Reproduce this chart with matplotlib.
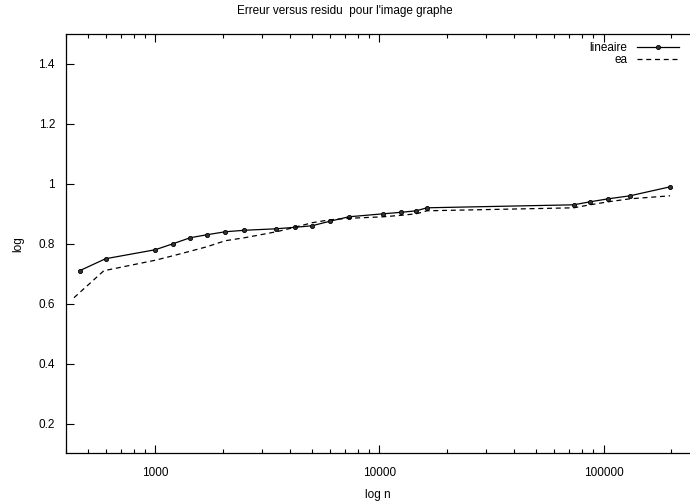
import matplotlib
matplotlib.use("Agg")
import matplotlib.pyplot as plt
from matplotlib.ticker import FixedLocator, FormatStrFormatter, LogLocator, NullFormatter

plt.rcParams['font.family'] = ['Liberation Sans', 'DejaVu Sans']

# === Données ===
x_lin = [460, 600, 1000, 1200, 1430, 1700, 2050, 2500, 3470, 4200, 5000, 6000, 7300,
         10400, 12500, 14600, 16300, 73600, 87000, 105000, 131000, 198000]
y_lin = [0.71, 0.75, 0.78, 0.80, 0.82, 0.83, 0.84, 0.845, 0.85, 0.855, 0.86, 0.875, 0.89,
         0.90, 0.905, 0.91, 0.92, 0.93, 0.94, 0.95, 0.96, 0.99]

x_ea = [434, 590, 1000, 1200, 1430, 1700, 2050, 2500, 3470, 4200, 5000, 6000, 7300,
        10400, 12500, 14600, 16300, 73600, 87000, 105000, 131000, 198000]
y_ea = [0.62, 0.71, 0.745, 0.76, 0.775, 0.79, 0.81, 0.82, 0.84, 0.855, 0.87, 0.88, 0.885,
        0.89, 0.895, 0.90, 0.91, 0.92, 0.93, 0.94, 0.95, 0.96]

y_ticks = [0.2, 0.4, 0.6, 0.8, 1.0, 1.2, 1.4]

# === Figure ===
fig = plt.figure(figsize=(6.9, 5.04), dpi=100)
ax = fig.add_axes([0.0957, 0.1002, 0.9043, 0.8323])

ax.plot(x_lin, y_lin, color='black', linewidth=0.9, marker='o', markersize=3,
        markerfacecolor='#333333', markeredgecolor='black', markeredgewidth=0.6,
        label='lineaire')
ax.plot(x_ea, y_ea, color='black', linewidth=0.9, dashes=(4, 3), label='ea')

ax.set_xscale('log')
ax.set_xlim(400, 243000)
ax.set_ylim(0.1, 1.5)

ax.xaxis.set_major_locator(FixedLocator([1000, 10000, 100000]))
ax.xaxis.set_major_formatter(FormatStrFormatter('%d'))
ax.xaxis.set_minor_locator(LogLocator(base=10, subs=range(2, 10)))
ax.xaxis.set_minor_formatter(NullFormatter())
ax.yaxis.set_major_locator(FixedLocator(y_ticks))
ax.yaxis.set_major_formatter(FormatStrFormatter('%g'))

ax.tick_params(axis='both', which='major', direction='in', length=6, width=0.8,
               labelsize=8.5, top=True, right=False)
ax.tick_params(axis='x', which='major', pad=10)
ax.tick_params(axis='y', which='major', pad=8)
ax.tick_params(axis='x', which='minor', direction='in', length=3, width=0.8, top=True)
ax.spines['right'].set_visible(False)
for s in ['left', 'bottom', 'top']:
    ax.spines[s].set_linewidth(0.9)

ax.set_xlabel('log n', fontsize=8.5, labelpad=7)
ax.set_ylabel('log', fontsize=8.5, labelpad=10)
fig.text(0.5, 0.978, "Erreur versus residu  pour l'image graphe", ha='center', va='center',
         fontsize=8.5)

ax.legend(loc='upper right', frameon=False, markerfirst=False, fontsize=8.5,
          handlelength=3.6, labelspacing=-0.03, borderaxespad=0.3, handletextpad=0.8,
          bbox_to_anchor=(0.996, 1.0))

fig.savefig('out.png', dpi=100)
